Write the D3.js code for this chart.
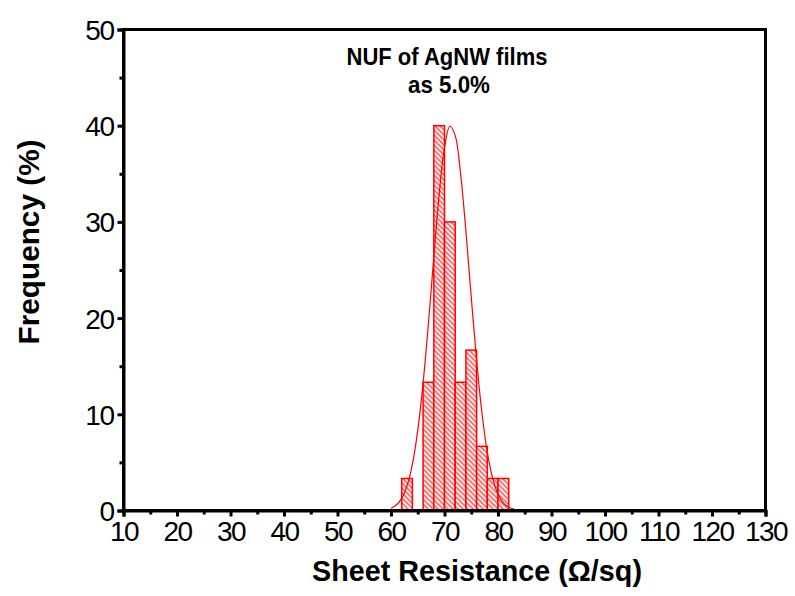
<!DOCTYPE html>
<html>
<head>
<meta charset="utf-8">
<script src="https://cdn.jsdelivr.net/npm/d3@7"></script>
<style>
  body { margin: 0; background: #fff; }
  text { font-family: "Liberation Sans", Arial, sans-serif; }
</style>
</head>
<body>
<div id="chart"></div>
<script>
// histogram bins (left edge, right edge, frequency %)
var binStart = [62, 66, 68, 70, 72, 74, 76, 78, 80];
var binEnd   = [64, 68, 70, 72, 74, 76, 78, 80, 82];
var freq     = [3.33, 13.33, 40, 30, 13.33, 16.67, 6.67, 3.33, 3.33];

// fitted curve
var fitX = [60, 61, 62, 63, 64, 65, 66, 67, 68, 69, 70, 71, 72, 73, 74, 75, 76, 77, 78, 79, 80, 81, 82, 83];
var fitY = [0.24, 0.57, 1.26, 2.57, 4.82, 8.33, 13.27, 19.47, 26.34, 32.83, 37.72, 39.94,
            38.97, 35.04, 29.05, 22.19, 15.62, 10.13, 6.06, 3.34, 1.7, 0.79, 0.34, 0.14];

var xTicks = [10, 20, 30, 40, 50, 60, 70, 80, 90, 100, 110, 120, 130];
var yTicks = [0, 10, 20, 30, 40, 50];

var W = 795, H = 596;
var margin = {left: 123.5, right: 29.5, top: 29.5, bottom: 85.5};
var width = W - margin.left - margin.right;
var height = H - margin.top - margin.bottom;

var svg = d3.select("#chart").append("svg")
    .attr("width", W)
    .attr("height", H);

var defs = svg.append("defs");
var pat = defs.append("pattern")
    .attr("id", "hatch")
    .attr("patternUnits", "userSpaceOnUse")
    .attr("width", 5)
    .attr("height", 5);
pat.append("rect").attr("width", 5).attr("height", 5).attr("fill", "#fff");
pat.append("path")
    .attr("d", "M-1,-1 L6,6 M-1,4 L1,6 M4,-1 L6,1")
    .attr("stroke", "#ff0000")
    .attr("stroke-width", 1.1);

var g = svg.append("g")
    .attr("transform", "translate(" + margin.left + "," + margin.top + ")");

var x = d3.scaleLinear().domain([10, 130]).range([0, width]);
var y = d3.scaleLinear().domain([0, 50]).range([height, 0]);

// bars
g.selectAll("rect.bar")
    .data(freq)
    .enter().append("rect")
    .attr("class", "bar")
    .attr("x", function(d, i) { return x(binStart[i]); })
    .attr("width", function(d, i) { return x(binEnd[i]) - x(binStart[i]); })
    .attr("y", function(d) { return y(d); })
    .attr("height", function(d) { return y(0) - y(d); })
    .attr("fill", "url(#hatch)")
    .attr("stroke", "#ff0000")
    .attr("stroke-width", 1.5);

// fit line
var line = d3.line()
    .x(function(d, i) { return x(fitX[i]); })
    .y(function(d) { return y(d); })
    .curve(d3.curveCatmullRom);

g.append("path")
    .datum(fitY)
    .attr("d", line)
    .attr("fill", "none")
    .attr("stroke", "#ff0000")
    .attr("stroke-width", 1.2);

// frame
g.append("rect")
    .attr("width", width)
    .attr("height", height)
    .attr("fill", "none")
    .attr("stroke", "#000")
    .attr("stroke-width", 3);

// x axis
var xAxis = g.append("g")
    .attr("transform", "translate(0," + height + ")")
    .call(d3.axisBottom(x).tickValues(xTicks).tickSize(6).tickPadding(5).tickFormat(d3.format("d")));
g.append("g")
    .attr("transform", "translate(0," + height + ")")
    .call(d3.axisBottom(x).tickValues(d3.range(15, 130, 10)).tickSize(4).tickFormat(""))
    .call(function(a) { a.select(".domain").remove(); });

// y axis
var yAxis = g.append("g")
    .call(d3.axisLeft(y).tickValues(yTicks).tickSize(6).tickPadding(4).tickFormat(d3.format("d")));
g.append("g")
    .call(d3.axisLeft(y).tickValues([5, 15, 25, 35, 45]).tickSize(4).tickFormat(""))
    .call(function(a) { a.select(".domain").remove(); });

g.selectAll(".domain").attr("stroke-width", 3);
g.selectAll(".tick line").attr("stroke-width", 3);
xAxis.selectAll(".tick text")
    .attr("font-size", 28)
    .attr("letter-spacing", -1.5)
    .attr("font-family", "Liberation Sans, Arial, sans-serif")
    .attr("fill", "#000");
yAxis.selectAll(".tick text")
    .attr("font-size", 28)
    .attr("letter-spacing", -1.5)
    .attr("font-family", "Liberation Sans, Arial, sans-serif")
    .attr("fill", "#000")
    .attr("dy", "0.36em");

// titles
svg.append("text")
    .attr("x", 477)
    .attr("y", 581)
    .attr("text-anchor", "middle")
    .attr("font-family", "Open Sans, sans-serif")
    .attr("font-weight", "bold")
    .attr("font-size", 29)
    .attr("textLength", 330)
    .attr("lengthAdjust", "spacingAndGlyphs")
    .text("Sheet Resistance (\u03A9/sq)");

svg.append("text")
    .attr("transform", "translate(39,242) rotate(-90)")
    .attr("text-anchor", "middle")
    .attr("font-family", "Liberation Sans, Arial, sans-serif")
    .attr("font-weight", "bold")
    .attr("font-size", 30)
    .attr("textLength", 205)
    .attr("lengthAdjust", "spacingAndGlyphs")
    .text("Frequency (%)");

svg.append("text")
    .attr("x", 447)
    .attr("y", 65)
    .attr("text-anchor", "middle")
    .attr("font-family", "Open Sans, sans-serif")
    .attr("font-weight", "bold")
    .attr("font-size", 24)
    .attr("textLength", 201)
    .attr("lengthAdjust", "spacingAndGlyphs")
    .text("NUF of AgNW films");

svg.append("text")
    .attr("x", 449)
    .attr("y", 93)
    .attr("text-anchor", "middle")
    .attr("font-family", "Open Sans, sans-serif")
    .attr("font-weight", "bold")
    .attr("font-size", 24)
    .attr("textLength", 82)
    .attr("lengthAdjust", "spacingAndGlyphs")
    .text("as 5.0%");
</script>
</body>
</html>
